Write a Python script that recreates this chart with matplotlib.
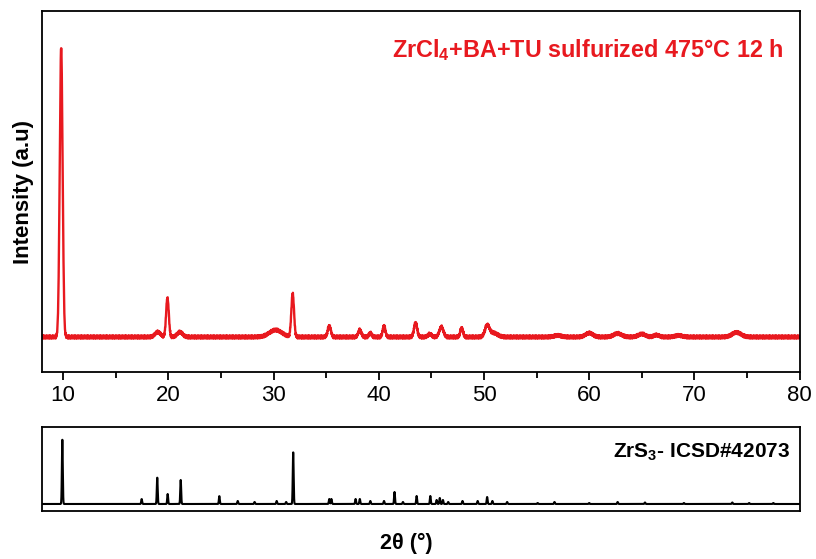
import numpy as np
import matplotlib
matplotlib.use("Agg")
import matplotlib.pyplot as plt

plt.rcParams['font.family'] = ['Liberation Sans', 'DejaVu Sans']
plt.rcParams['mathtext.default'] = 'regular'

# measured pattern: peak centre (2theta), height above baseline, FWHM
obs_pos = [9.82, 19.0, 19.92, 21.1, 30.2, 31.82, 35.3, 38.2, 39.2, 40.5,
           43.5, 44.85, 45.95, 47.88, 50.3, 50.9, 57.0, 60.0, 62.7, 65.0,
           66.4, 68.5, 74.0]
obs_height = [290, 5, 39, 5, 7, 43, 11, 7, 4, 11,
              14, 3, 10, 9, 11, 4, 1.5, 4, 3.5, 3,
              2, 1.5, 4.5]
obs_fwhm = [0.32, 0.6, 0.30, 0.6, 1.4, 0.30, 0.35, 0.35, 0.3, 0.3,
            0.35, 0.4, 0.45, 0.3, 0.5, 0.9, 0.8, 0.8, 0.9, 0.8,
            0.6, 0.8, 1.0]
obs_baseline = 35
obs_jitter = [0.8, -1.2, 1.5, -0.4, 0.3, -1.6, 1.1, 0.2, -0.9, 1.7,
              -0.5, 0.6, -1.3, 1.0, -0.2, 0.9, -1.5, 0.4, 1.3, -0.7,
              0.1, -1.1, 1.6, -0.3, 0.7, -1.4, 0.5, 1.2, -0.8, -0.1]

# reference card ZrS3 ICSD#42073: line position, relative height
ref_pos = [9.93, 17.47, 18.95, 19.94, 21.18, 24.85, 26.6, 28.2, 30.3, 31.2,
           31.87, 35.3, 35.5, 37.8, 38.2, 39.2, 40.5, 41.5, 42.3, 43.6,
           44.9, 45.5, 45.8, 46.1, 46.6, 47.96, 49.4, 50.3, 50.8, 52.2,
           55.1, 56.7, 60.0, 62.7, 65.3, 69.0, 73.6, 75.2, 77.5]
ref_height = [66, 5, 27, 10, 24, 8, 3, 2, 3, 2,
              53, 5, 5, 5, 5, 3, 3, 12, 2, 8,
              8, 4, 6, 4, 2, 3, 3, 7, 3, 2,
              1, 2, 1, 2, 1.5, 1, 1.5, 1, 1]

x = np.arange(8, 80.001, 0.02)

y_obs = np.full_like(x, obs_baseline, dtype=float)
for p, h, w in zip(obs_pos, obs_height, obs_fwhm):
    s = w / 2.355
    y_obs += h * np.exp(-0.5 * ((x - p) / s) ** 2)
y_obs += np.resize(np.array(obs_jitter), x.size)

y_ref = np.zeros_like(x)
for p, h in zip(ref_pos, ref_height):
    s = 0.1 / 2.355
    y_ref += h * np.exp(-0.5 * ((x - p) / s) ** 2)

red = '#e8191f'
fig = plt.figure(figsize=(8.16, 5.59), dpi=100)
ax1 = fig.add_axes([0.0515, 0.3345, 0.9285, 0.6458])
ax2 = fig.add_axes([0.0515, 0.0859, 0.9285, 0.1502])

ax1.plot(x, y_obs, color=red, lw=1.7)
ax1.set_xlim(8, 80)
ax1.set_ylim(0, 361)
ax1.set_yticks([])
ax1.set_xticks(np.arange(10, 81, 10))
ax1.set_xticks(np.arange(15, 80, 10), minor=True)
ax1.tick_params(axis='x', which='major', length=6, width=1.3, labelsize=16, pad=3)
ax1.tick_params(axis='x', which='minor', length=4, width=1.3)
ax1.set_ylabel('Intensity (a.u)', fontsize=16, fontweight='bold', labelpad=6)
ax1.text(0.978, 0.892, 'ZrCl$_4$+BA+TU sulfurized 475°C 12 h', transform=ax1.transAxes,
         ha='right', va='center', color=red, fontsize=16.8, fontweight='bold')

ax2.plot(x, y_ref, color='black', lw=1.5)
ax2.set_xlim(8, 80)
ax2.set_ylim(-7, 77)
ax2.set_xticks([])
ax2.set_yticks([])
ax2.text(0.987, 0.70, 'ZrS$_3$- ICSD#42073', transform=ax2.transAxes,
         ha='right', va='center', color='black', fontsize=15, fontweight='bold')

fig.text(406 / 816, 1 - 543 / 559, '2θ (°)', ha='center', va='center',
         fontsize=15.5, fontweight='bold')

for ax in (ax1, ax2):
    for sp in ax.spines.values():
        sp.set_linewidth(1.3)

fig.savefig('out.png', dpi=100)
